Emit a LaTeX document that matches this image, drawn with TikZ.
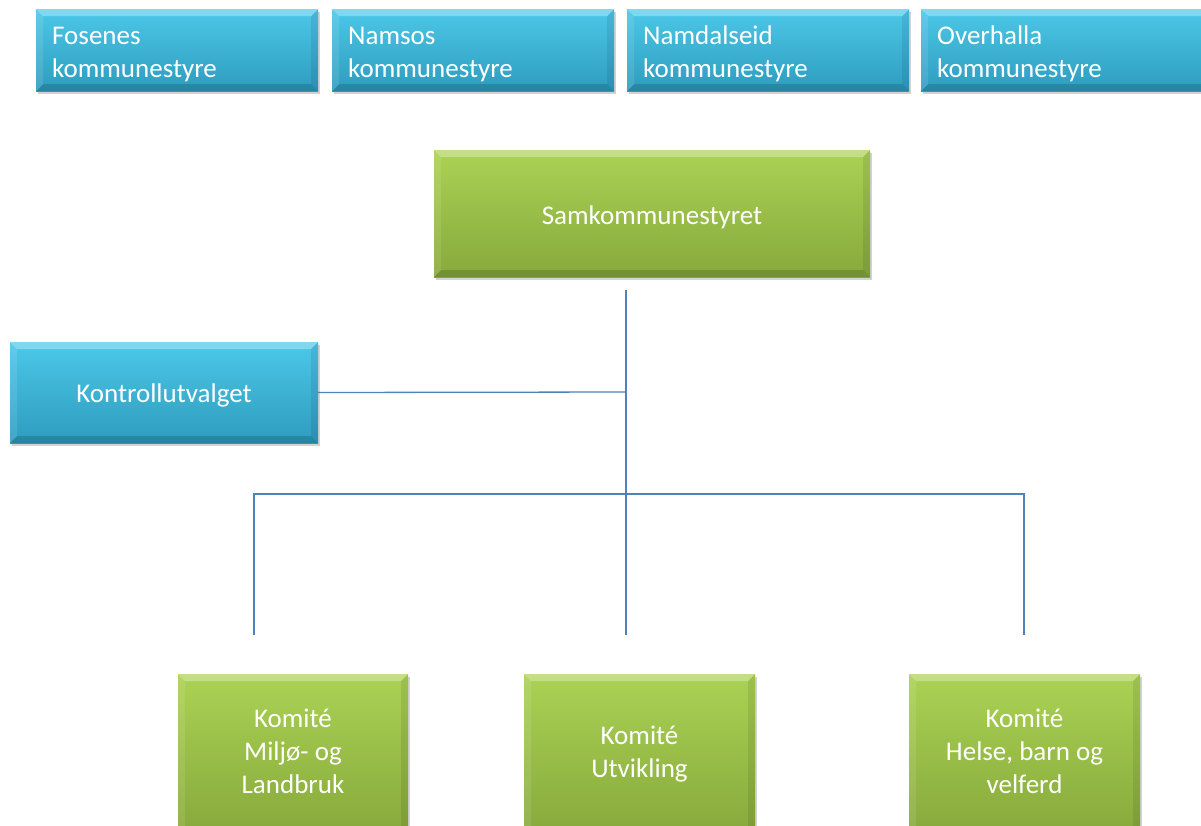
\documentclass[tikz,border=0pt]{standalone}
\usepackage{fontspec}
\setmainfont{Carlito}
\usetikzlibrary{shadows,calc}
\definecolor{bluetop}{HTML}{4CC8E8}
\definecolor{bluebot}{HTML}{2E9CBE}
\definecolor{greentop}{HTML}{ABD254}
\definecolor{greenbot}{HTML}{87A93C}
\definecolor{linecol}{HTML}{4F81BD}
\newcommand\shiftdn[2]{\raisebox{-#1}[\height][\depth]{#2}}
\newcommand\lcol[1]{\begin{tabular}{@{}l@{}}#1\end{tabular}}
\newcommand\ccol[1]{\begin{tabular}{@{}c@{}}#1\end{tabular}}
\tikzset{
  bevel/.style={path picture={
    \fill[white,opacity=0.3] (path picture bounding box.north west) -- (path picture bounding box.north east) -- ++(-7pt,-7pt) -- ($(path picture bounding box.north west)+(7pt,-7pt)$) -- cycle;
    \fill[black,opacity=0.15] (path picture bounding box.south west) -- (path picture bounding box.south east) -- ++(-7pt,7pt) -- ($(path picture bounding box.south west)+(7pt,7pt)$) -- cycle;
    \fill[black,opacity=0.08] (path picture bounding box.south east) -- (path picture bounding box.north east) -- ++(-7pt,-7pt) -- ($(path picture bounding box.south east)+(-7pt,7pt)$) -- cycle;
    \fill[white,opacity=0.1] (path picture bounding box.south west) -- (path picture bounding box.north west) -- ++(7pt,-7pt) -- ($(path picture bounding box.south west)+(7pt,7pt)$) -- cycle;
  }},
  bluebox/.style={rectangle, top color=bluetop, bottom color=bluebot, bevel,
    drop shadow={shadow xshift=1.5pt, shadow yshift=-3pt, opacity=0.35},
    text=white, font=\fontsize{27}{33}\selectfont},
  greenbox/.style={rectangle, top color=greentop, bottom color=greenbot, bevel,
    drop shadow={shadow xshift=1.5pt, shadow yshift=-3pt, opacity=0.35},
    text=white, font=\fontsize{27}{33}\selectfont, align=center, inner sep=0pt},
  topbox/.style={bluebox, anchor=north west, minimum height=82pt, text width=250pt, inner xsep=16pt, inner ysep=0pt, align=left},
  conn/.style={draw=linecol, line width=1.3pt},
}
\begin{document}
\begin{tikzpicture}[x=1pt,y=-1pt]
\useasboundingbox (0,0) rectangle (1201,825);
\clip (0,0) rectangle (1201,825);
\fill[white] (0,0) rectangle (1201,825);
% top row
\node[topbox] (fos) at (36,9) {\shiftdn{4pt}{\lcol{Fosenes\\kommunestyre}}};
\node[topbox] (nam) at (332,9) {\shiftdn{4pt}{\lcol{Namsos\\kommunestyre}}};
\node[topbox] (nmd) at (627,9) {\shiftdn{4pt}{\lcol{Namdalseid\\kommunestyre}}};
\node[topbox, text width=270pt] (ovh) at (921,9) {\shiftdn{4pt}{\lcol{Overhalla\\kommunestyre}}};
% main
\node[greenbox, minimum width=436pt, minimum height=127pt] (sam) at (652,213.5) {\shiftdn{4pt}{Samkommunestyret}};
\node[bluebox, inner sep=0pt, minimum width=308pt, minimum height=101pt] (kon) at (164,392.5) {\shiftdn{2.5pt}{Kontrollutvalget}};
% committees
\node[greenbox, minimum width=230pt, minimum height=160pt] (k1) at (293,754) {\ccol{Komité\\Miljø- og\\Landbruk}};
\node[greenbox, minimum width=231pt, minimum height=160pt] (k2) at (639.5,754) {\ccol{Komité\\Utvikling}};
\node[greenbox, minimum width=231pt, minimum height=160pt] (k3) at (1024.5,754) {\ccol{Komité\\Helse, barn og\\velferd}};
% connector coordinates
\coordinate (top) at (626,290);
\coordinate (mid) at (626,392);
\coordinate (hub) at (626,494);
\coordinate (bl) at (254,494);
\coordinate (br) at (1024,494);
\coordinate (e1) at (254,635);
\coordinate (e2) at (626,635);
\coordinate (e3) at (1024,635);
\draw[conn] (top) -- (mid) -- (hub) -- (e2);
\draw[conn] (kon.east) -- (mid);
\draw[conn] (e1) -- (bl) -- (br) -- (e3);
\end{tikzpicture}
\end{document}
